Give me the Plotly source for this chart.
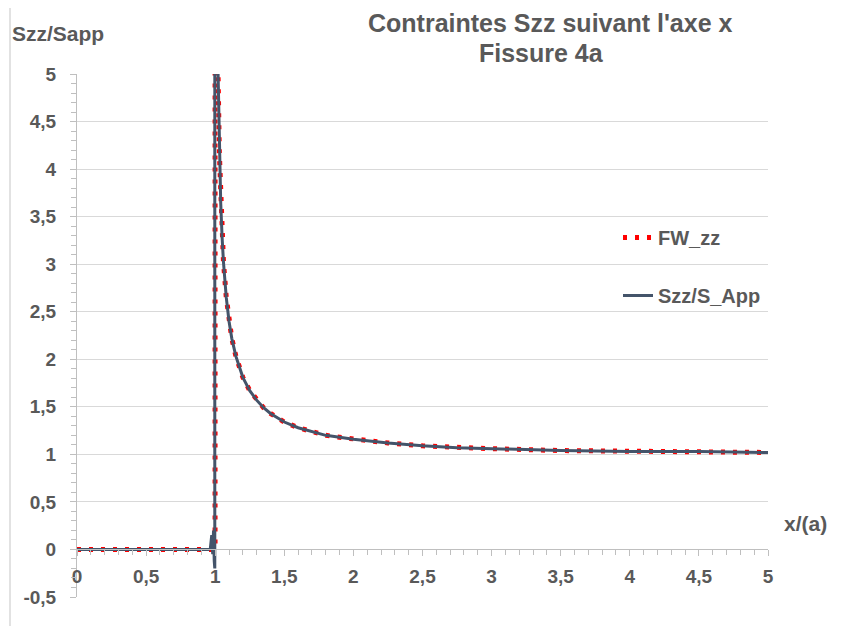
import plotly.graph_objects as go

# x/(a) sample positions
x_fw = [0, 0.1, 0.2, 0.3, 0.4, 0.5, 0.6, 0.7, 0.8, 0.9, 0.95, 0.999, 1.0,
        1.01, 1.02, 1.03, 1.04, 1.05, 1.06, 1.08, 1.1, 1.12, 1.15, 1.2, 1.25,
        1.3, 1.35, 1.4, 1.5, 1.6, 1.7, 1.8, 1.9, 2.0, 2.25, 2.5, 2.75, 3.0,
        3.5, 4.0, 4.5, 5.0]
y_fw = [0, 0, 0, 0, 0, 0, 0, 0, 0, 0, 0, 0, 100,
        7.12, 5.07, 4.17, 3.64, 3.28, 3.02, 2.65, 2.40, 2.22, 2.03, 1.81, 1.67,
        1.57, 1.49, 1.43, 1.34, 1.28, 1.24, 1.20, 1.18, 1.16, 1.12, 1.09, 1.07, 1.06,
        1.04, 1.03, 1.03, 1.02]

x_fe = [0, 0.1, 0.2, 0.3, 0.4, 0.5, 0.6, 0.7, 0.8, 0.9, 0.95, 0.965, 0.975,
        0.982, 0.988, 0.993, 0.997, 1.0,
        1.01, 1.02, 1.03, 1.04, 1.05, 1.06, 1.08, 1.1, 1.12, 1.15, 1.2, 1.25,
        1.3, 1.35, 1.4, 1.5, 1.6, 1.7, 1.8, 1.9, 2.0, 2.25, 2.5, 2.75, 3.0,
        3.5, 4.0, 4.5, 5.0]
y_fe = [0, 0, 0, 0, 0, 0, 0, 0, 0, 0, 0, 0.01, 0.15,
        -0.05, 0.2, -0.12, -0.2, 100,
        7.12, 5.07, 4.17, 3.64, 3.28, 3.02, 2.65, 2.40, 2.22, 2.03, 1.81, 1.67,
        1.57, 1.49, 1.43, 1.34, 1.28, 1.24, 1.20, 1.18, 1.16, 1.12, 1.09, 1.07, 1.06,
        1.04, 1.03, 1.03, 1.02]

y_tickvals = [-0.5, 0, 0.5, 1, 1.5, 2, 2.5, 3, 3.5, 4, 4.5, 5]
y_ticktext = ["-0,5", "0", "0,5", "1", "1,5", "2", "2,5", "3", "3,5", "4", "4,5", "5"]

title_lines = ["Contraintes Szz suivant l'axe x", "Fissure 4a"]
y_title = "Szz/Sapp"
x_title = "x/(a)"

GREY = "#595959"
FONT = "Liberation Sans, Arial, sans-serif"
OFF = 8  # page body margin
W, H = 859 - OFF, 626 - OFF
# plot area in reference-pixel coordinates
PX0, PX1, PY0, PY1 = 77, 768, 74, 597
L, R, T, B = PX0 - OFF, W - (PX1 - OFF), PY0 - OFF, H - (PY1 - OFF)
pw, ph = W - L - R, H - T - B


def px(x):
    return (x - PX0) / pw


def py(y):
    return 1 - (y - PY0) / ph


def fnt(size):
    return dict(family=FONT, size=size, color=GREY, weight="bold")


fig = go.Figure()
fig.add_trace(go.Scatter(
    x=x_fw, y=y_fw, mode="lines", name="FW_zz", legendgroup="a",
    line=dict(color="#FF0000", width=5, dash="4px,8px"),
))
fig.add_trace(go.Scatter(
    x=x_fe, y=y_fe, mode="lines", name="Szz/S_App", legendgroup="b",
    line=dict(color="#44546A", width=3),
))

fig.update_layout(
    width=W, height=H,
    margin=dict(l=L, r=R, t=T, b=B, autoexpand=False),
    paper_bgcolor="white", plot_bgcolor="white",
    separators=", ",
    font=fnt(19),
    showlegend=True,
    legend=dict(
        x=px(618), y=py(218), xanchor="left", yanchor="top",
        traceorder="grouped", tracegroupgap=29,
        font=fnt(20),
        bgcolor="rgba(0,0,0,0)",
    ),
    xaxis=dict(
        range=[0, 5], dtick=0.5, tick0=0, showgrid=False, zeroline=False,
        anchor="free", position=0.5 / 5.5,
        showline=True, linecolor="#BFBFBF", linewidth=1,
        ticks="outside", ticklen=6, tickcolor="#BFBFBF",
        ticklabelstandoff=4,
        tickfont=fnt(19),
        minor=dict(dtick=0.1, ticks="outside", ticklen=5, tickcolor="#BFBFBF", showgrid=False),
    ),
    yaxis=dict(
        range=[-0.5, 5], tickmode="array", tickvals=y_tickvals, ticktext=y_ticktext,
        showgrid=True, gridcolor="#D9D9D9",
        zeroline=False, showline=True, linecolor="#BFBFBF", linewidth=1,
        ticks="outside", ticklen=6, tickcolor="#BFBFBF",
        ticklabelstandoff=10,
        tickfont=fnt(19),
        minor=dict(dtick=0.1, tick0=0, ticks="outside", ticklen=5, tickcolor="#BFBFBF", showgrid=False),
    ),
)

fig.add_annotation(
    text=title_lines[0], xref="paper", yref="paper",
    x=px(550), y=py(23),
    xanchor="center", yanchor="middle", showarrow=False,
    font=fnt(25),
)
fig.add_annotation(
    text=title_lines[1], xref="paper", yref="paper",
    x=px(541), y=py(53),
    xanchor="center", yanchor="middle", showarrow=False,
    font=fnt(25),
)
fig.add_annotation(
    text=y_title, xref="paper", yref="paper",
    x=px(10), y=py(33), xanchor="left", yanchor="middle",
    showarrow=False, font=fnt(21),
)
fig.add_annotation(
    text=x_title, xref="paper", yref="paper",
    x=px(782), y=py(523), xanchor="left", yanchor="middle",
    showarrow=False, font=fnt(21),
)
# outer chart frame
fig.add_shape(
    type="rect", xref="paper", yref="paper",
    x0=px(10), x1=px(880), y0=py(650), y1=py(5),
    line=dict(color="#D9D9D9", width=1.5), fillcolor="rgba(0,0,0,0)", layer="below",
)

fig.write_html("out.html")
